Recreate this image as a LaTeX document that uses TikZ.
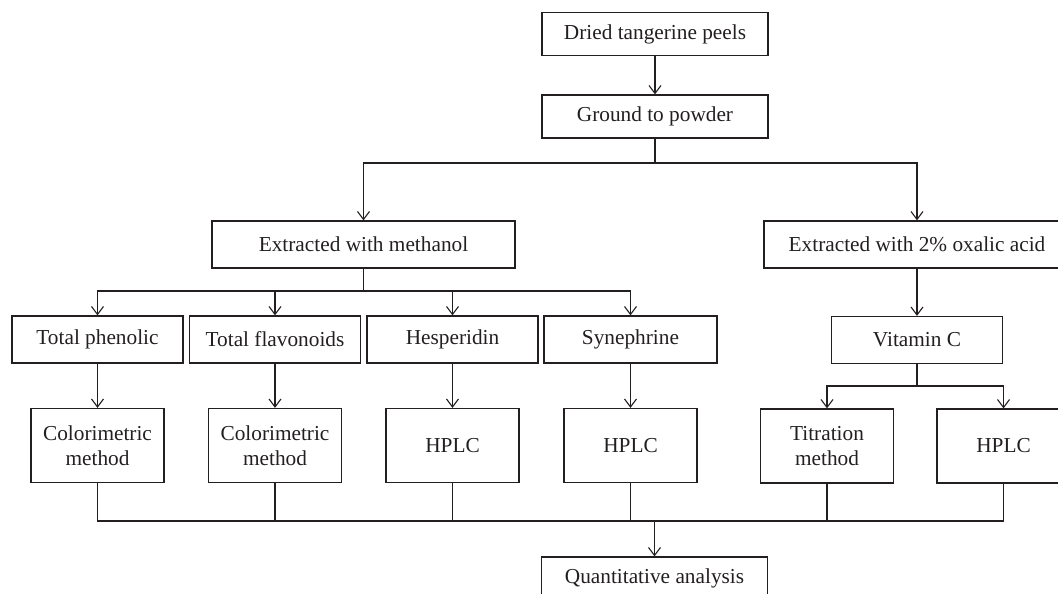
\documentclass[tikz,border=0pt]{standalone}
\usepackage{fontspec}
\setmainfont{Liberation Serif}
\usetikzlibrary{arrows.meta}
\definecolor{ink}{HTML}{231F20}
\begin{document}
\begin{tikzpicture}[x=1pt,y=-1pt,line width=1.2pt,draw=ink,text=ink,
	>={Straight Barb[length=8pt,width=12pt,line width=1.1pt]},
	font=\fontsize{21.3}{25}\selectfont,
	box/.style={draw,rectangle,inner sep=0pt,align=center,minimum height=47pt},
	wide/.style={box,minimum width=226pt,minimum height=43pt},
	item/.style={box,minimum width=171pt},
	tall/.style={box,minimum width=133pt,minimum height=74pt}]
	\useasboundingbox (0,0) rectangle (1058,594);
	\clip (0,0) rectangle (1058,594);
	% top of the chart
	\node[wide] (dried) at (655,34) {Dried tangerine peels};
	\node[wide] (ground) at (655,116.5) {Ground to powder};
	\node[box,minimum width=303pt] (meth) at (363.5,244.5) {Extracted with methanol};
	\node[box,minimum width=306pt] (oxal) at (917,244.5) {Extracted with 2\% oxalic acid};
	% compounds
	\node[item] (phen) at (97.5,339.5) {Total phenolic};
	\node[item] (flav) at (275,339.5) {Total flavonoids};
	\node[item] (hesp) at (452.5,339.5) {Hesperidin};
	\node[item,minimum width=173pt] (syne) at (630.5,339.5) {Synephrine};
	\node[item] (vitc) at (917,340) {Vitamin C};
	% methods
	\node[tall] (colA) at (97.5,445.5) {Colorimetric\\method};
	\node[tall] (colB) at (275,445.5) {Colorimetric\\method};
	\node[tall] (hplcA) at (452.5,445.5) {HPLC};
	\node[tall] (hplcB) at (630.5,445.5) {HPLC};
	\node[tall] (titr) at (827,446) {Titration\\method};
	\node[tall] (hplcC) at (1003.5,446) {HPLC};
	\node[wide] (quant) at (654.5,578.5) {Quantitative analysis};
	% branch points
	\coordinate (s1) at (655,163);
	\coordinate (s2) at (363.5,291);
	\coordinate (s3) at (917,386);
	\coordinate (m) at (654.5,521);
	\draw[->] (dried) -- (ground);
	\draw (ground) -- (s1);
	\draw[->] (s1) -| (meth);
	\draw[->] (s1) -| (oxal);
	\draw (meth) -- (s2);
	\foreach \n in {phen,flav,hesp,syne}
		\draw[->] (s2) -| (\n);
	\draw[->] (oxal) -- (vitc);
	\draw[->] (phen) -- (colA);
	\draw[->] (flav) -- (colB);
	\draw[->] (hesp) -- (hplcA);
	\draw[->] (syne) -- (hplcB);
	\draw (vitc) -- (s3);
	\draw[->] (s3) -| (titr);
	\draw[->] (s3) -| (hplcC);
	\foreach \n in {colA,colB,hplcA,hplcB,titr,hplcC}
		\draw (\n) |- (m);
	\draw[->] (m) -- (quant);
\end{tikzpicture}
\end{document}
